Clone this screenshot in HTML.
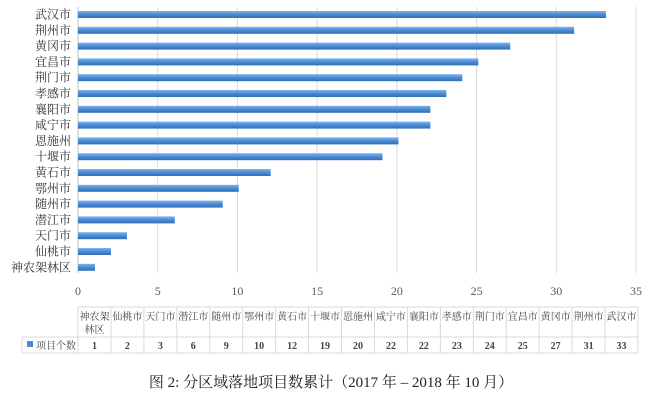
<!DOCTYPE html>
<html><head><meta charset="utf-8"><style>
body{margin:0;background:#fff;}
svg text{font-family:"Liberation Serif","Noto Serif CJK SC",serif;}
</style></head><body>
<svg width="663" height="401" xmlns="http://www.w3.org/2000/svg">
<defs><linearGradient id="g" x1="0" y1="0" x2="0" y2="1">
<stop offset="0" stop-color="#7fb2ea"/><stop offset="0.5" stop-color="#4a8bd4"/><stop offset="1" stop-color="#2f6fb8"/></linearGradient></defs>
<g stroke="#d9d9d9" stroke-width="1">
<line x1="157.7" y1="7" x2="157.7" y2="273"/><line x1="237.4" y1="7" x2="237.4" y2="273"/><line x1="317.1" y1="7" x2="317.1" y2="273"/><line x1="396.9" y1="7" x2="396.9" y2="273"/><line x1="476.6" y1="7" x2="476.6" y2="273"/><line x1="556.3" y1="7" x2="556.3" y2="273"/><line x1="636" y1="7" x2="636" y2="273"/>
</g>
<line x1="78" y1="7" x2="78" y2="273" stroke="#bfbfbf"/>
<g id="bars"></g>
<g font-size="12" fill="#333" text-anchor="end" id="labels"></g>
<g font-size="12" fill="#595959" text-anchor="middle" style="font-family:'Liberation Sans',sans-serif">
<text x="78" y="295">0</text><text x="157.7" y="295">5</text><text x="237.4" y="295">10</text><text x="317.1" y="295">15</text><text x="396.9" y="295">20</text><text x="476.6" y="295">25</text><text x="556.3" y="295">30</text><text x="636" y="295">35</text>
</g>
<g id="tbl" stroke="#d9d9d9" fill="none"></g>
<g id="tt" font-size="10" fill="#444" text-anchor="middle"></g>
<text x="331" y="387" font-size="15" fill="#222" text-anchor="middle">图 2:  分区域落地项目数累计（2017 年 – 2018 年 10 月）</text>
</svg>
<script>
var ns="http://www.w3.org/2000/svg";
function el(p,t,a,txt){var e=document.createElementNS(ns,t);for(var k in a)e.setAttribute(k,a[k]);if(txt!=null)e.textContent=txt;document.getElementById(p).appendChild(e);return e;}
var names=["武汉市","荆州市","黄冈市","宜昌市","荆门市","孝感市","襄阳市","咸宁市","恩施州","十堰市","黄石市","鄂州市","随州市","潜江市","天门市","仙桃市","神农架林区"];
var vals=[33,31,27,25,24,23,22,22,20,19,12,10,9,6,3,2,1];
var u=559/35;
for(var i=0;i<17;i++){var y=14.5+15.8*i;
el("bars","rect",{x:78,y:y-3.5,width:vals[i]*u+1,height:7,fill:"url(#g)"});
el("labels","text",{x:71,y:y+4},names[i]);}
var x0=78,cw=(638-78)/17;
el("tbl","line",{x1:x0,y1:307,x2:638,y2:307});
el("tbl","line",{x1:22,y1:337,x2:638,y2:337});
el("tbl","line",{x1:22,y1:353,x2:638,y2:353});
el("tbl","line",{x1:22,y1:337,x2:22,y2:353});
for(var j=0;j<=17;j++){el("tbl","line",{x1:x0+j*cw,y1:307,x2:x0+j*cw,y2:353});}
for(var j=0;j<17;j++){var k=16-j,cx=x0+j*cw+cw/2;
if(k==16){el("tt","text",{x:cx,y:320},"神农架");el("tt","text",{x:cx,y:333},"林区");}
else el("tt","text",{x:cx,y:320},names[k]);
el("tt","text",{x:cx,y:349,"font-weight":"bold","font-family":"Liberation Sans,sans-serif"},vals[k]);}
el("tt","rect",{x:27,y:341,width:6,height:6,fill:"#4a8bd4"});
el("tt","text",{x:56,y:349},"项目个数");
</script>
</body></html>
